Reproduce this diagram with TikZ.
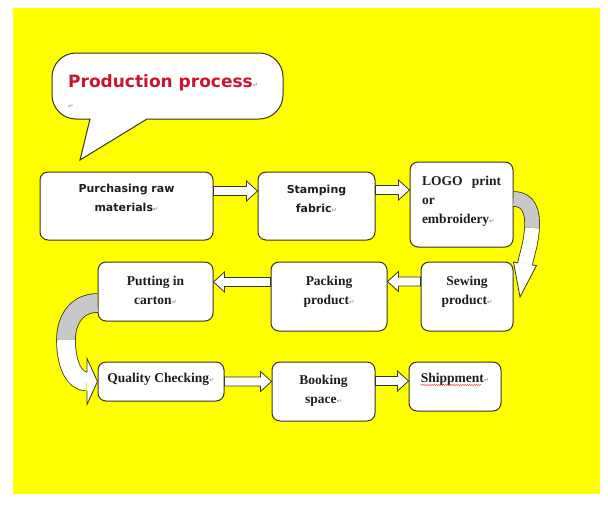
\documentclass[tikz,border=0pt]{standalone}
\usepackage{fontspec}
\setmainfont{Liberation Serif}
\newfontfamily\boxsans{DejaVu Sans}
\usetikzlibrary{calc,positioning,decorations.pathmorphing}
\definecolor{bg}{RGB}{255,255,0}
\definecolor{edge}{RGB}{55,55,30}
\definecolor{ink}{RGB}{30,30,30}
\definecolor{titlered}{RGB}{200,22,45}
\definecolor{markgray}{RGB}{135,135,135}
\definecolor{backgray}{RGB}{200,200,200}
\newcommand\parmark{{\boxsans\mdseries\fontsize{6.5}{6.5}\selectfont\color{markgray}↵}}
\begin{document}
\begin{tikzpicture}[x=1pt,y=-1pt,
  stepbox/.style={draw=edge, fill=white, line width=1pt, rounded corners=8pt, inner sep=0pt},
  sanslabel/.style={font=\boxsans\bfseries\fontsize{11}{19}\selectfont, align=center, anchor=base, inner sep=0pt, text=ink},
  seriflabel/.style={font=\bfseries\fontsize{13.5}{19}\selectfont, align=center, anchor=base, inner sep=0pt, text=ink},
  barrow/.style={draw=edge, fill=white, line width=0.8pt,
    to path={let \p1=(\tikztostart), \p2=(\tikztotarget), \n1={(\x2>\x1)*2-1} in
      (\x1,{\y1+4.5pt}) -- ({\x2-(\n1)*11pt},{\y1+4.5pt}) -- ({\x2-(\n1)*11pt},{\y1+10pt}) -- (\x2,\y1)
      -- ({\x2-(\n1)*11pt},{\y1-10pt}) -- ({\x2-(\n1)*11pt},{\y1-4.5pt}) -- (\x1,{\y1-4.5pt}) -- cycle}},
  ribbon/.style={draw=edge, line width=0.8pt, double=#1}]

% 背景
\useasboundingbox[fill=white] (0,0) rectangle (608,504);
\fill[bg] (13,8) rectangle (600,494);

% 吹き出し
\draw[draw=edge, fill=white, line width=1pt] (90,119) [rounded corners=24pt] -- (52,119) -- (52,53)
  -- (283,53) -- (283,119) [sharp corners] -- (147,119) -- (80,160) -- cycle;
\node[font=\boxsans\bfseries\fontsize{17}{17}\selectfont, text=titlered, anchor=base west, inner sep=0pt]
  (title) at (68,87) {Production process\parmark};
\node[anchor=base west, inner sep=0pt] (blank) at (68,108) {\parmark};

% 箱
\node[stepbox, minimum width=173pt, minimum height=68pt] (purch) at (126.5,206) {};
\node[stepbox, minimum width=117pt, minimum height=68pt] (stamp) at (316.5,206) {};
\node[stepbox, minimum width=103pt, minimum height=85pt] (logo) at (461.5,204.5) {};
\node[stepbox, minimum width=115pt, minimum height=59pt] (carton) at (155.5,291.5) {};
\node[stepbox, minimum width=116pt, minimum height=69pt] (pack) at (329,296.5) {};
\node[stepbox, minimum width=92pt, minimum height=69pt] (sew) at (467,296.5) {};
\node[stepbox, minimum width=126pt, minimum height=39pt] (qual) at (161,381.5) {};
\node[stepbox, minimum width=103pt, minimum height=59pt] (book) at (323.5,391.5) {};
\node[stepbox, minimum width=92pt, minimum height=49pt] (ship) at (455,386.5) {};

% 文字(2行のものは下の行のベースラインに合わせる)
\node[sanslabel] (purcht) at ([yshift=-40pt]purch.north) {Purchasing raw\\materials\parmark};
\node[sanslabel] (stampt) at ([yshift=-41pt]stamp.north) {Stamping\\fabric\parmark};
\node[seriflabel, text width=79pt, align=left] (logot) at ([yshift=-24pt]logo.north)
  {LOGO\hfill print\\or\\embroidery\parmark};
\node[seriflabel] (cartont) at ([yshift=-43pt]carton.north) {Putting in\\carton\parmark};
\node[seriflabel] (packt) at ([yshift=-43pt]pack.north) {Packing\\product\parmark};
\node[seriflabel] (sewt) at ([yshift=-43pt]sew.north) {Sewing\\product\parmark};
\node[seriflabel] (qualt) at ([yshift=-21pt]qual.north) {Quality Checking\parmark};
\node[seriflabel] (bookt) at ([yshift=-42pt]book.north) {Booking\\space\parmark};
\node[seriflabel] (shipt) at ([yshift=-21pt]ship.north) {Shippment\parmark};
\draw[red!70!gray, line width=0.4pt, decorate, decoration={snake, amplitude=0.5pt, segment length=2.2pt}]
  ([yshift=-2.5pt]shipt.base west) -- ([yshift=-2.5pt,xshift=-8pt]shipt.base east);

% まっすぐな矢印
\draw[barrow] ([yshift=15pt]purch.east) to (stamp.west);
\draw[barrow] ([yshift=16pt]stamp.east) to (logo.west);
\draw[barrow] ([yshift=15pt]sew.west) to (pack.east);
\draw[barrow] ([yshift=14.5pt]pack.west) to (carton.east);
\draw[barrow] (qual.east) to (book.west);
\draw[barrow] ([yshift=10.5pt]book.east) to (ship.west);

% 右のカーブ矢印
\coordinate (rs) at ([yshift=5.5pt]logo.east);
\draw[ribbon=backgray, double distance=14pt] (rs) .. controls (529,199) and (533,212) .. (532,228);
\draw[ribbon=white, double distance=14pt] (532,228) .. controls (531,244) and (527,254) .. (525,264);
\fill[white] (513.5,262) -- (520,297) -- (536.5,265.5) -- cycle;
\draw[edge, line width=0.8pt] (518.1,263) -- (513.5,262) -- (520,297) -- (536.5,265.5) -- (531.9,265);

% 左のカーブ矢印
\coordinate (ls) at ([yshift=-11.5pt]carton.west);
\draw[ribbon=backgray, double distance=18pt] (ls) .. controls (78,303) and (66,318) .. (66,340);
\draw[ribbon=white, double distance=18pt] (66,340) .. controls (66,364) and (74,381.5) .. (87,381.5);
\fill[white] (87,358.5) -- (qual.west) -- (87,404.5) -- cycle;
\draw[edge, line width=0.8pt] (87,372.5) -- (87,358.5) -- (qual.west) -- (87,404.5) -- (87,390.5);
\end{tikzpicture}
\end{document}
